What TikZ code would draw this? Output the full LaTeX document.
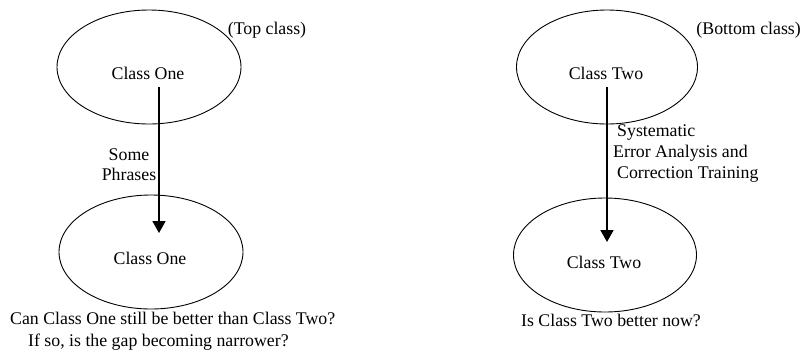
\documentclass[tikz,border=0pt]{standalone}
\usepackage{fontspec}
\setmainfont{Liberation Serif}
\usetikzlibrary{shapes.geometric,arrows.meta}
\begin{document}
\begin{tikzpicture}[x=1pt,y=-1pt,
  cls/.style={draw,ellipse,line width=0.9pt,minimum width=184pt,minimum height=114pt,inner sep=0pt},
  txt/.style={font=\fontsize{17.8}{22}\selectfont,inner sep=0pt},
  arr/.style={line width=1.8pt,-{Triangle[length=12pt,width=13pt]}}]
\useasboundingbox (0,0) rectangle (801,349);
% ellipses
\node[cls] (e1) at (149,67) {};
\node[cls] (e2) at (151,252) {};
\node[cls,minimum width=181pt] (e3) at (607,67) {};
\node[cls,minimum width=183pt] (e4) at (605,255) {};
% texts in ellipses
\node[txt] (t1) at (148,73) {Class One};
\node[txt] (t2) at (150,258) {Class One};
\node[txt] (t3) at (606,73) {Class Two};
\node[txt] (t4) at (604,262) {Class Two};
% side labels
\node[txt] (top) at (267,30) {(Top class)};
\node[txt,anchor=east] (bot) at (801,30) {(Bottom class)};
% arrows
\coordinate (a1s) at (159,87);
\coordinate (a1e) at (159,233);
\coordinate (a2s) at (607,87);
\coordinate (a2e) at (607,242);
\draw[arr] (a1s) -- (a1e);
\draw[arr] (a2s) -- (a2e);
% arrow labels
\node[txt,align=center,font=\fontsize{17.8}{20}\selectfont] (l1) at (129,165) {Some\\Phrases};
\node[txt,align=left,anchor=west,font=\fontsize{17.8}{21}\selectfont] (l2) at (613,154)
  {\hspace{4pt}Systematic\\Error Analysis and\\\hspace{4pt}Correction Training};
% questions
\node[txt,align=left,anchor=west] (q1) at (10,331)
  {Can Class One still be better than Class Two?\\\hspace{18pt}If so, is the gap becoming narrower?};
\node[txt] (q2) at (611,320) {Is Class Two better now?};
\end{tikzpicture}
\end{document}
